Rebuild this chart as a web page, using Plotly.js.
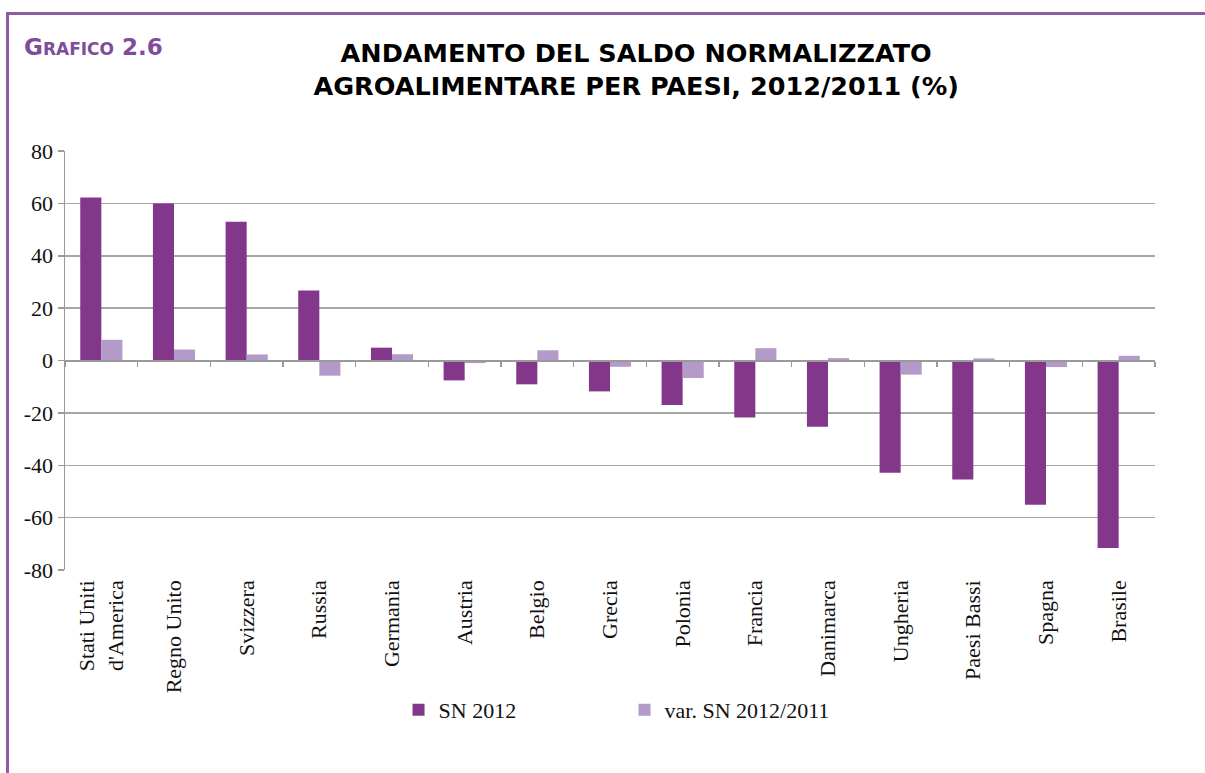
<!DOCTYPE html>
<html>
<head>
<meta charset="utf-8">
<script src="https://cdn.plot.ly/plotly-3.0.1.min.js"></script>
<style>
  html, body { margin: 0; padding: 0; background: #ffffff; }
  #frame { position: absolute; left: 6px; top: 12px; width: 1300px; height: 900px;
           border-top: 3px solid #8E5BA5; border-left: 3px solid #8E5BA5; }
  #chart { position: absolute; left: 0; top: 0; width: 1205px; height: 773px; }
</style>
</head>
<body>
<div id="frame"></div>
<div id="chart"></div>
<script>
const countries = ["Stati Uniti<br>d'America", "Regno Unito", "Svizzera", "Russia", "Germania",
  "Austria", "Belgio", "Grecia", "Polonia", "Francia", "Danimarca", "Ungheria",
  "Paesi Bassi", "Spagna", "Brasile"];
const sn2012 = [62.2, 60.0, 53.0, 26.7, 4.9, -7.6, -9.1, -11.8, -17.0, -21.8, -25.3, -42.9, -45.4, -55.1, -71.6];
const varSn = [7.9, 4.2, 2.3, -5.8, 2.4, -1.0, 3.9, -2.4, -6.7, 4.7, 0.9, -5.4, 0.8, -2.5, 1.8];
const seriesNames = ["SN 2012", "var. SN 2012/2011"];
const yTicks = [-80, -60, -40, -20, 0, 20, 40, 60, 80];

const serif = "'Liberation Serif', 'Times New Roman', serif";
const traces = [
  { type: 'bar', name: seriesNames[0], x: countries, y: sn2012,
    marker: { color: '#82378B' }, hoverinfo: 'x+y' },
  { type: 'bar', name: seriesNames[1], x: countries, y: varSn,
    marker: { color: '#B39AC8' }, hoverinfo: 'x+y' }
];

const layout = {
  width: 1205, height: 773,
  paper_bgcolor: 'rgba(0,0,0,0)', plot_bgcolor: 'rgba(0,0,0,0)',
  margin: { l: 65, r: 50, t: 151, b: 203 },
  barmode: 'group', bargap: 0.42, bargroupgap: 0,
  font: { family: serif, size: 22, color: '#111111' },
  title: {
    text: 'ANDAMENTO DEL SALDO NORMALIZZATO<br>AGROALIMENTARE PER PAESI, 2012/2011 (%)',
    font: { family: "'DejaVu Sans', sans-serif", size: 25.5, weight: 'bold', color: '#000000' },
    xref: 'paper', x: 0.524, xanchor: 'center',
    yref: 'container', y: 1 - 62 / 773, yanchor: 'middle'
  },
  xaxis: {
    type: 'category', anchor: 'free', position: 0.5,
    showline: true, linecolor: '#9A9A9A', linewidth: 2,
    ticks: 'outside', tickson: 'boundaries', ticklen: 5, tickcolor: '#9A9A9A', tickwidth: 1.5,
    tickangle: -90, ticklabelstandoff: 210,
    showgrid: false, zeroline: false,
    tickfont: { family: serif, size: 22, color: '#111111' },
    fixedrange: true
  },
  yaxis: {
    range: [-80, 80], tickvals: yTicks, ticktext: yTicks.map(String),
    showline: true, linecolor: '#9A9A9A', linewidth: 1.5,
    ticks: 'outside', ticklen: 6, tickcolor: '#9A9A9A', tickwidth: 1.5,
    showgrid: true, gridcolor: '#A6A6A6', gridwidth: 1.5,
    zeroline: false,
    tickfont: { family: serif, size: 22, color: '#111111' },
    fixedrange: true
  },
  showlegend: true,
  legend: {
    orientation: 'h', x: 0.306, xanchor: 'left', y: -0.334, yanchor: 'middle',
    entrywidth: 181, itemwidth: 30,
    font: { family: serif, size: 22, color: '#111111' },
    bgcolor: 'rgba(0,0,0,0)'
  },
  annotations: [
    { text: "G<span style='font-size:17px'>RAFICO</span> 2.6", showarrow: false,
      xref: 'paper', yref: 'paper', x: (22 - 65) / 1090, xanchor: 'left',
      y: (570 - 47) / 419, yanchor: 'middle',
      font: { family: "'DejaVu Sans', sans-serif", size: 23, weight: 'bold', color: '#7F4C9C' } }
  ]
};

Plotly.newPlot('chart', traces, layout, { displayModeBar: false, staticPlot: true });
</script>
</body>
</html>
